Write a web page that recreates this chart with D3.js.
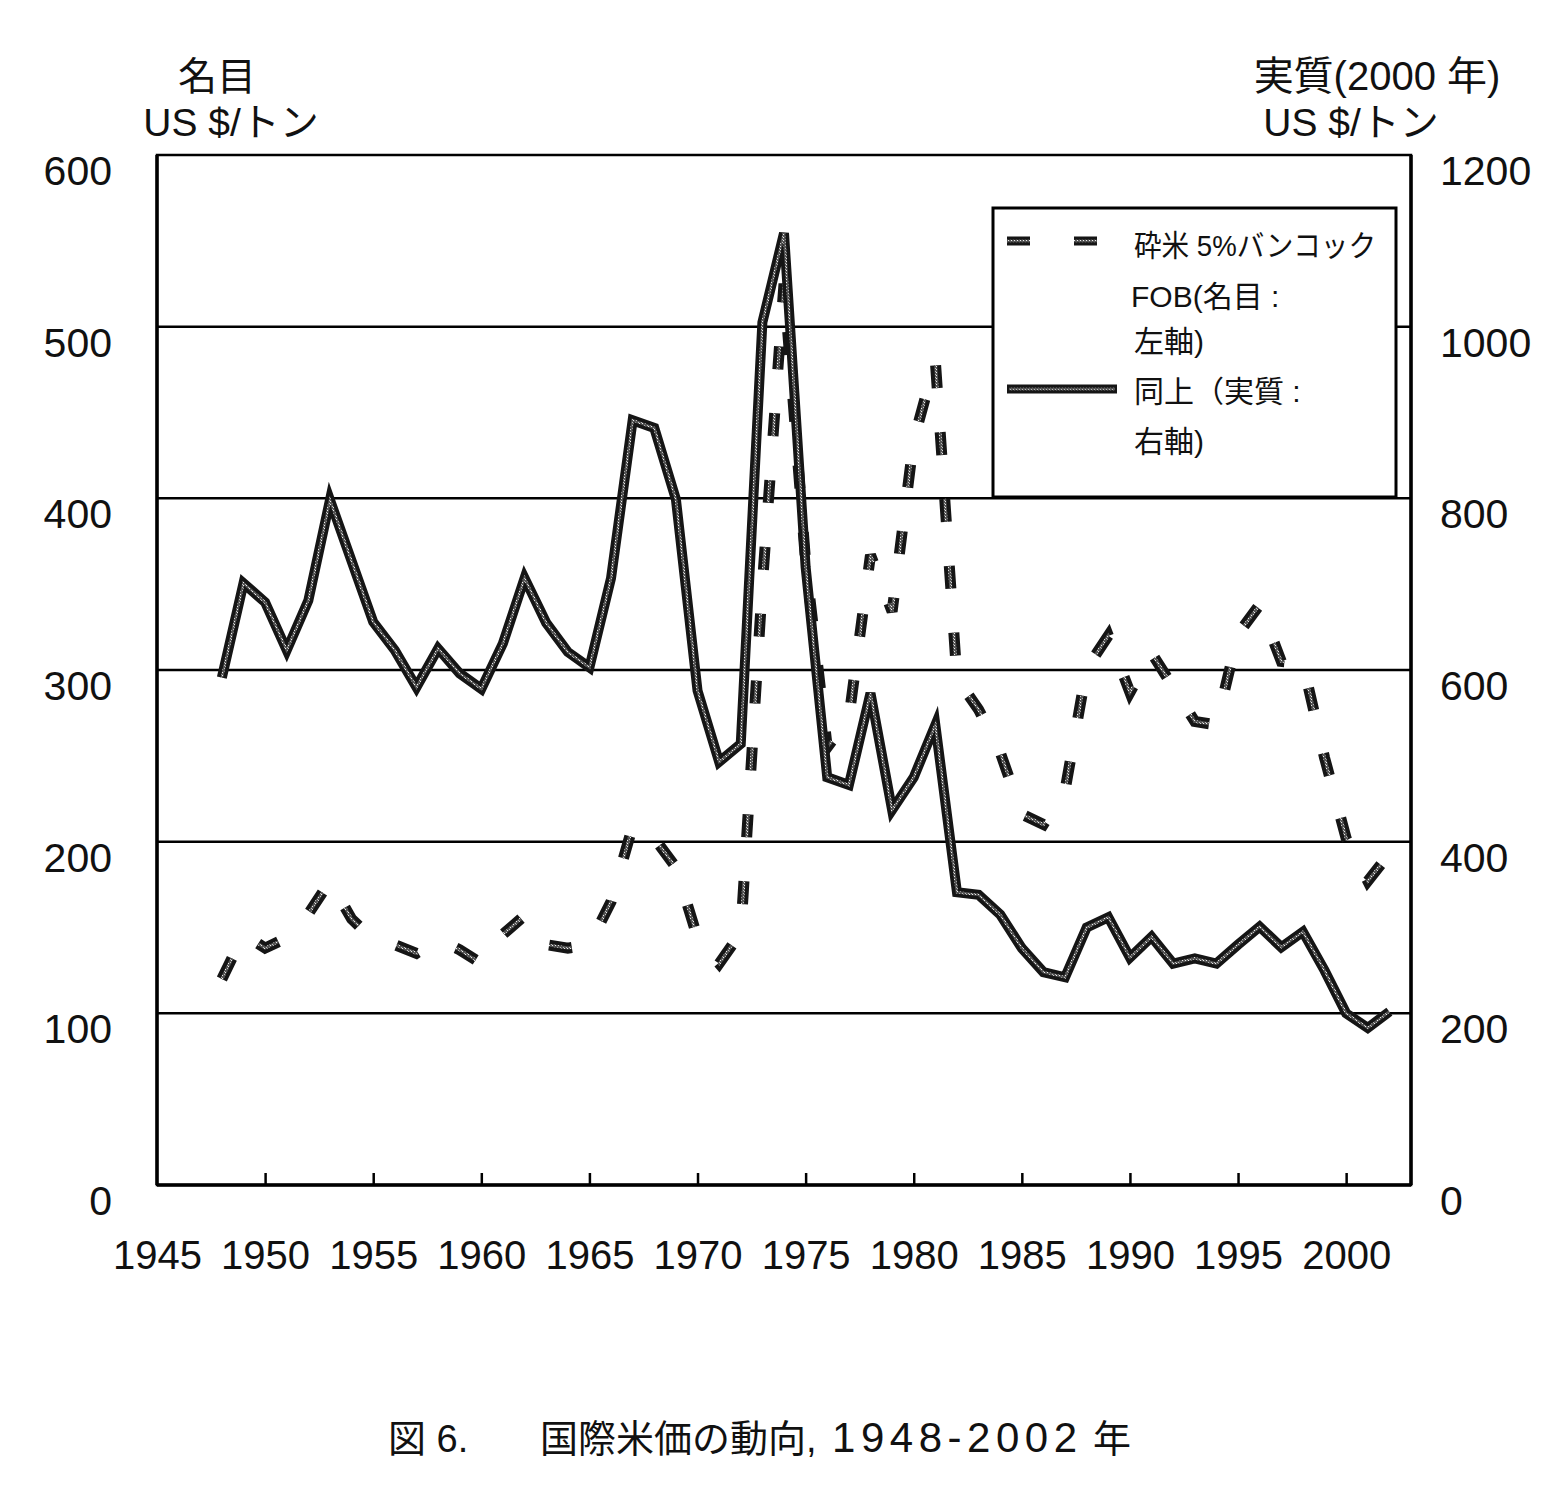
<!DOCTYPE html>
<html><head><meta charset="utf-8">
<script src="https://cdn.jsdelivr.net/npm/d3@7"></script>
<style>
html,body{margin:0;padding:0;background:#fff;}
svg text{font-family:"Liberation Sans","Noto Sans CJK JP",Arial,sans-serif;fill:#111;}
</style></head>
<body>
<svg id="chart" width="1560" height="1487"></svg>
<script>
// ---- data ----
const years = d3.range(1948, 2003);
const nominal = [120,146,138,144,158,177,155,143,140,135,143,137,129,146,157,140,138,140,165,209,
  202,185,144,129,147,350,525,363,255,272,367,334,434,480,295,277,252,216,210,230,
  301,320,287,310,290,270,268,321,338,305,304,249,202,177,193];
const real = [591,701,679,623,681,798,727,656,623,580,625,596,578,631,707,655,621,603,707,891,
  882,799,576,493,514,1005,1109,720,475,466,573,437,475,536,341,338,315,276,248,242,
  300,312,265,289,258,264,258,280,301,277,295,250,200,183,202];
const xTicks = [1945,1950,1955,1960,1965,1970,1975,1980,1985,1990,1995,2000];
const leftTicks = [0,100,200,300,400,500,600];
const rightTicks = [0,200,400,600,800,1000,1200];
const legendLabels = [["砕米 5%バンコック","FOB(名目 :","左軸)"],["同上（実質 :","右軸)"]];

// ---- layout ----
const svg = d3.select("#chart");
const L = 157, R = 1411, T = 155, B = 1185;
const x = d3.scaleLinear().domain([1945, 2003]).range([L, R]);
const yL = d3.scaleLinear().domain([0, 600]).range([B, T]);
const yR = d3.scaleLinear().domain([0, 1200]).range([B, T]);

svg.append("rect").attr("width",1560).attr("height",1487).attr("fill","#fff");

const defs = svg.append("defs");
const pat = defs.append("pattern").attr("id","stip").attr("width",3).attr("height",3)
  .attr("patternUnits","userSpaceOnUse");
pat.append("rect").attr("width",3).attr("height",3).attr("fill","#555");
pat.append("rect").attr("width",1).attr("height",1).attr("fill","#eee");
pat.append("rect").attr("x",2).attr("y",2).attr("width",1).attr("height",1).attr("fill","#bbb");

// gridlines
svg.append("g").selectAll("line").data(leftTicks.filter(d=>d>0&&d<600)).join("line")
  .attr("x1",L).attr("x2",R).attr("y1",d=>yL(d)).attr("y2",d=>yL(d))
  .attr("stroke","#000").attr("stroke-width",2.5);

// plot border
svg.append("rect").attr("x",L).attr("y",T).attr("width",R-L).attr("height",B-T)
  .attr("fill","none").attr("stroke","#000").attr("stroke-width",2.5);
svg.append("line").attr("x1",L).attr("x2",L).attr("y1",T).attr("y2",B).attr("stroke","#000").attr("stroke-width",3.5);
svg.append("line").attr("x1",R).attr("x2",R).attr("y1",T).attr("y2",B).attr("stroke","#000").attr("stroke-width",3.5);
svg.append("line").attr("x1",L).attr("x2",R).attr("y1",B).attr("y2",B).attr("stroke","#000").attr("stroke-width",3.5);

// x axis (ticks pointing inward)
const xAxis = d3.axisBottom(x).tickValues(xTicks).tickSize(-12).tickFormat(d3.format("d")).tickPadding(48);
const gx = svg.append("g").attr("transform",`translate(0,${B})`).call(xAxis);
gx.select(".domain").remove();
gx.selectAll(".tick line").attr("stroke","#000").attr("stroke-width",2.5)
  .filter(d=>d===1945).remove();
gx.selectAll("text").attr("font-size",40).attr("fill","#111").attr("dy","0.9em");

// left axis
const gl = svg.append("g").attr("transform",`translate(${L},0)`)
  .call(d3.axisLeft(yL).tickValues(leftTicks).tickSize(0).tickPadding(45).tickFormat(d3.format("d")));
gl.select(".domain").remove();
gl.selectAll("text").attr("font-size",41).attr("dy","0.72em");

// right axis
const gr = svg.append("g").attr("transform",`translate(${R},0)`)
  .call(d3.axisRight(yR).tickValues(rightTicks).tickSize(0).tickPadding(29).tickFormat(d3.format("d")));
gr.select(".domain").remove();
gr.selectAll("text").attr("font-size",41).attr("dy","0.72em");

// axis titles
svg.append("text").attr("x",217).attr("y",90).attr("text-anchor","middle").attr("font-size",39).text("名目");
svg.append("text").attr("x",231).attr("y",136).attr("text-anchor","middle").attr("font-size",39).text("US $/トン");
svg.append("text").attr("x",1377).attr("y",90).attr("text-anchor","middle").attr("font-size",40).text("実質(2000 年)");
svg.append("text").attr("x",1351).attr("y",136).attr("text-anchor","middle").attr("font-size",39).text("US $/トン");

// series
const lineN = d3.line().x((d,i)=>x(years[i])).y(d=>yL(d)).curve(d3.curveLinear);
const lineR = d3.line().x((d,i)=>x(years[i])).y(d=>yR(d)).curve(d3.curveLinear);

const dash = "23 44";
svg.append("path").attr("d",lineN(nominal)).attr("fill","none").attr("stroke","#151515")
  .attr("stroke-width",11).attr("stroke-dasharray",dash).attr("stroke-linejoin","miter");
svg.append("path").attr("d",lineN(nominal)).attr("fill","none").attr("stroke","url(#stip)")
  .attr("stroke-width",3).attr("stroke-dasharray",dash).attr("stroke-linejoin","miter");

svg.append("path").attr("d",lineR(real)).attr("fill","none").attr("stroke","#151515")
  .attr("stroke-width",10).attr("stroke-linejoin","miter");
svg.append("path").attr("d",lineR(real)).attr("fill","none").attr("stroke","url(#stip)")
  .attr("stroke-width",2.5).attr("stroke-linejoin","miter");

// legend
const lg = svg.append("g");
lg.append("rect").attr("x",993).attr("y",208).attr("width",403).attr("height",289)
  .attr("fill","#fff").attr("stroke","#000").attr("stroke-width",3);
lg.append("line").attr("x1",1007).attr("x2",1097).attr("y1",241).attr("y2",241)
  .attr("stroke","#151515").attr("stroke-width",9).attr("stroke-dasharray",dash);
lg.append("line").attr("x1",1007).attr("x2",1097).attr("y1",241).attr("y2",241)
  .attr("stroke","url(#stip)").attr("stroke-width",2.5).attr("stroke-dasharray",dash);
lg.append("line").attr("x1",1007).attr("x2",1117).attr("y1",389).attr("y2",389)
  .attr("stroke","#151515").attr("stroke-width",9);
lg.append("line").attr("x1",1009).attr("x2",1115).attr("y1",389).attr("y2",389)
  .attr("stroke","url(#stip)").attr("stroke-width",2.5);
const ly = [[256,307,352],[402,452]];
legendLabels.forEach((lines,k)=>{
  lines.forEach((t,j)=>{
    const tx = lg.append("text").attr("x", (k===0&&j===1)?1131:1134).attr("y",ly[k][j]).attr("font-size",30).text(t);
    if(k===0&&j===0) tx.attr("textLength",242).attr("lengthAdjust","spacingAndGlyphs");
  });
});

// caption
svg.append("text").attr("x",388).attr("y",1452).attr("font-size",38).text("図 6.");
svg.append("text").attr("x",540).attr("y",1452).attr("font-size",38).text("国際米価の動向,");
svg.append("text").attr("x",832).attr("y",1452).attr("font-size",42)
  .attr("textLength",245).attr("lengthAdjust","spacing").text("1948-2002");
svg.append("text").attr("x",1093).attr("y",1452).attr("font-size",38).text("年");
</script>
</body></html>
